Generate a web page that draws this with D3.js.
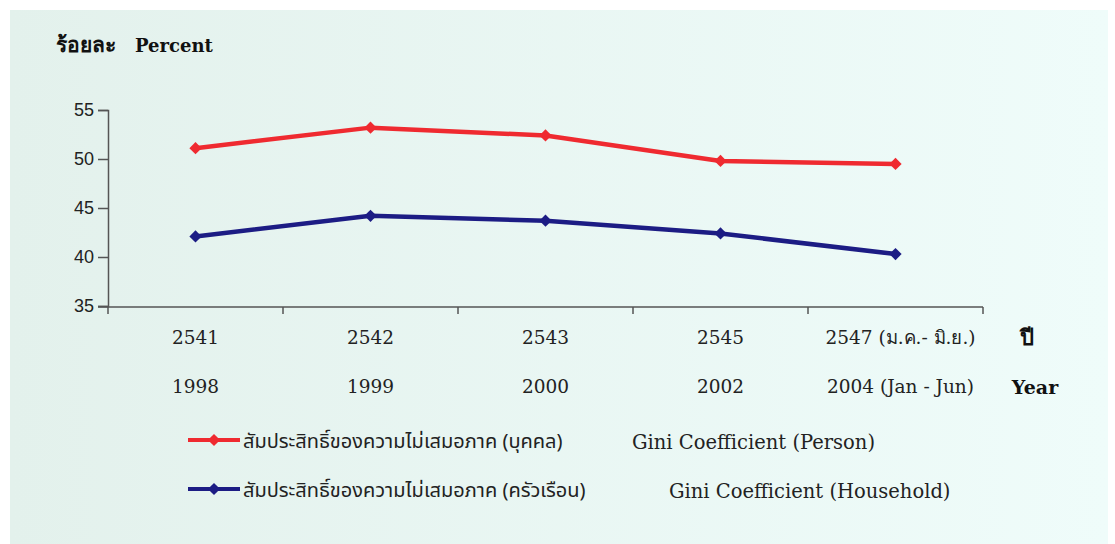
<!DOCTYPE html>
<html>
<head>
<meta charset="utf-8">
<script src="https://cdn.jsdelivr.net/npm/d3@7"></script>
<style>
  body { margin: 0; background: #fff; }
  svg { display: block; }
</style>
</head>
<body>
<svg id="chart" width="1115" height="544"></svg>
<script>
// data
const yearsThai = ["2541", "2542", "2543", "2545", "2547 (ม.ค.- มิ.ย.)"];
const yearsEn = ["1998", "1999", "2000", "2002", "2004 (Jan - Jun)"];
const giniPerson = [51.1, 53.2, 52.4, 49.8, 49.5];
const giniHousehold = [42.1, 44.2, 43.7, 42.4, 40.3];
const yTicks = [35, 40, 45, 50, 55];

const svg = d3.select("#chart");

// paper background
const defs = svg.append("defs");
const grad = defs.append("linearGradient").attr("id", "bg").attr("x1", 0).attr("x2", 1).attr("y1", 0).attr("y2", 0);
grad.append("stop").attr("offset", "0%").attr("stop-color", "#e3f1ec");
grad.append("stop").attr("offset", "100%").attr("stop-color", "#effcfa");
svg.append("rect").attr("x", 10).attr("y", 10).attr("width", 1098).attr("height", 534).attr("fill", "url(#bg)");

const margin = { left: 108, top: 110, right: 983, bottom: 306 };

const x = d3.scaleBand()
    .domain(d3.range(yearsThai.length))
    .range([margin.left, margin.right]);

const y = d3.scaleLinear()
    .domain([35, 55])
    .range([margin.bottom, margin.top]);

const axisColor = "#555";

// y axis
const yAxis = svg.append("g")
    .attr("transform", `translate(${margin.left},0)`)
    .call(d3.axisLeft(y).tickValues(yTicks).tickSize(10).tickPadding(4));
yAxis.select(".domain").attr("stroke", axisColor).attr("stroke-width", 1.5);
yAxis.selectAll(".tick line").attr("stroke", axisColor).attr("stroke-width", 1.5);
yAxis.selectAll(".tick text")
    .attr("fill", "#222")
    .style("font-family", "'Liberation Sans', Arial, sans-serif")
    .style("font-size", "18px");

// x axis: baseline plus ticks at band boundaries
const xg = svg.append("g");
xg.append("line")
    .attr("x1", margin.left - 10).attr("x2", margin.right)
    .attr("y1", margin.bottom + 1).attr("y2", margin.bottom + 1)
    .attr("stroke", axisColor).attr("stroke-width", 1.5);
xg.selectAll(".xtick")
    .data(d3.range(yearsThai.length + 1))
    .enter()
    .append("line")
    .attr("class", "xtick")
    .attr("x1", d => d < yearsThai.length ? x(d) : x(d - 1) + x.bandwidth())
    .attr("x2", d => d < yearsThai.length ? x(d) : x(d - 1) + x.bandwidth())
    .attr("y1", margin.bottom + 1)
    .attr("y2", margin.bottom + 8)
    .attr("stroke", axisColor).attr("stroke-width", 1.5);

const cx = i => x(i) + x.bandwidth() / 2;
const labelFont = "'DejaVu Serif', 'Liberation Serif', serif";

svg.selectAll(".lab1")
    .data(yearsThai)
    .enter()
    .append("text")
    .attr("x", (d, i) => cx(i) + (i === 4 ? 5 : 0))
    .attr("y", 344)
    .attr("text-anchor", "middle")
    .attr("fill", "#222")
    .style("font-family", labelFont)
    .style("font-size", "18.5px")
    .text(d => d);

svg.selectAll(".lab2")
    .data(yearsEn)
    .enter()
    .append("text")
    .attr("x", (d, i) => cx(i) + (i === 4 ? 5 : 0))
    .attr("y", 393)
    .attr("text-anchor", "middle")
    .attr("fill", "#222")
    .style("font-family", labelFont)
    .style("font-size", "18.5px")
    .text(d => d);

svg.append("text").attr("x", 1027).attr("y", 345).attr("text-anchor", "middle")
    .attr("fill", "#111").style("font-family", labelFont).style("font-weight", "bold").style("font-size", "22px")
    .text("ปี");
svg.append("text").attr("x", 1035).attr("y", 394).attr("text-anchor", "middle")
    .attr("fill", "#111").style("font-family", labelFont).style("font-weight", "bold").style("font-size", "19px")
    .text("Year");

// title
svg.append("text").attr("x", 56).attr("y", 52)
    .attr("fill", "#111").style("font-family", labelFont).style("font-weight", "bold").style("font-size", "21px")
    .text("ร้อยละ");
svg.append("text").attr("x", 135).attr("y", 52)
    .attr("fill", "#111").style("font-family", labelFont).style("font-weight", "bold").style("font-size", "18px")
    .text("Percent");

// series
const series = [
    { values: giniPerson, color: "#ef2a30" },
    { values: giniHousehold, color: "#1c1c84" }
];

const line = d3.line()
    .x((d, i) => cx(i))
    .y(d => y(d));

const diamond = d3.symbol().type(d3.symbolSquare).size(75);

series.forEach(s => {
    svg.append("path")
        .datum(s.values)
        .attr("fill", "none")
        .attr("stroke", s.color)
        .attr("stroke-width", 4.5)
        .attr("stroke-linejoin", "round")
        .attr("d", line);

    svg.selectAll(null)
        .data(s.values)
        .enter()
        .append("path")
        .attr("transform", (d, i) => `translate(${cx(i)},${y(d)}) rotate(45)`)
        .attr("d", diamond)
        .attr("fill", s.color);
});

// legend
const legendThai = ["สัมประสิทธิ์ของความไม่เสมอภาค (บุคคล)", "สัมประสิทธิ์ของความไม่เสมอภาค (ครัวเรือน)"];
const legendEn = ["Gini Coefficient (Person)", "Gini Coefficient (Household)"];
const legendEnX = [632, 669];
const legendY = [440, 489];

series.forEach((s, i) => {
    const g = svg.append("g").attr("transform", `translate(0,${legendY[i]})`);
    g.append("line").attr("x1", 188).attr("x2", 240).attr("y1", 0).attr("y2", 0)
        .attr("stroke", s.color).attr("stroke-width", 4);
    g.append("path").attr("transform", "translate(214,0) rotate(45)").attr("d", diamond).attr("fill", s.color);
    g.append("text").attr("x", 243).attr("y", 8)
        .attr("fill", "#222")
        .style("font-family", "'Noto Sans Thai', 'Noto Sans', 'DejaVu Sans', sans-serif")
        .style("font-size", "20px")
        .text(legendThai[i]);
    g.append("text").attr("x", legendEnX[i]).attr("y", 9)
        .attr("fill", "#222")
        .style("font-family", labelFont)
        .style("font-size", "19.5px")
        .text(legendEn[i]);
});
</script>
</body>
</html>
